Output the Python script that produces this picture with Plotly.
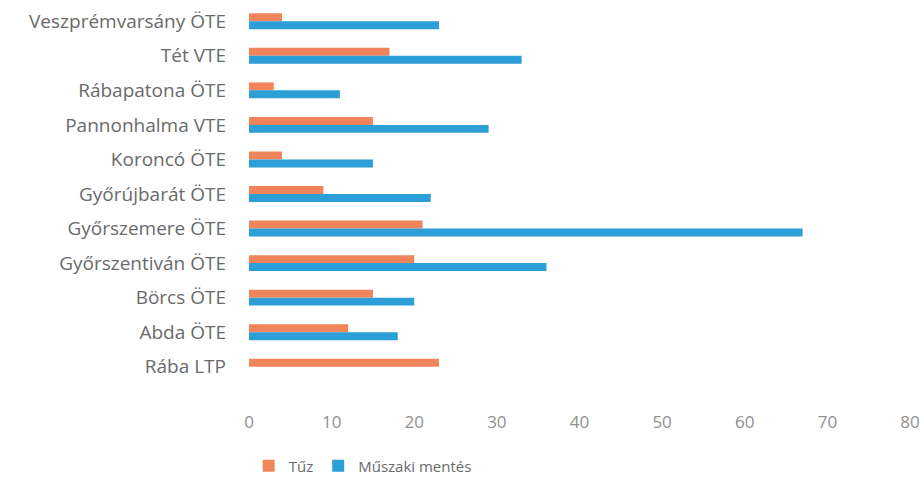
import plotly.graph_objects as go

categories = ["Veszprémvarsány ÖTE", "Tét VTE", "Rábapatona ÖTE", "Pannonhalma VTE",
              "Koroncó ÖTE", "Győrújbarát ÖTE", "Győrszemere ÖTE", "Győrszentiván ÖTE",
              "Börcs ÖTE", "Abda ÖTE", "Rába LTP"]
tuz = [4, 17, 3, 15, 4, 9, 21, 20, 15, 12, 23]
muszaki = [23, 33, 11, 29, 15, 22, 67, 36, 20, 18, 0]
x_ticks = [0, 10, 20, 30, 40, 50, 60, 70, 80]

fig = go.Figure()
fig.add_trace(go.Bar(y=categories, x=tuz, name="Tűz", orientation="h",
                     marker=dict(color="#F0845A", line=dict(width=0))))
fig.add_trace(go.Bar(y=categories, x=muszaki, name="Műszaki mentés", orientation="h",
                     marker=dict(color="#2C9ED8", line=dict(width=0))))

fig.update_layout(
    width=923, height=481,
    margin=dict(l=249, r=13, t=4, b=97, autoexpand=False),
    paper_bgcolor="white", plot_bgcolor="white",
    barmode="group", bargap=0.54, bargroupgap=0,
    font=dict(family="Open Sans", size=19, color="#6a6a6a"),
    showlegend=True,
    legend=dict(orientation="h", x=0.172, xanchor="center", y=-0.216, yanchor="middle",
                font=dict(size=15, color="#6a6a6a"), traceorder="normal",
                itemwidth=30),
    xaxis=dict(range=[0, 80], tickvals=x_ticks, showgrid=False, zeroline=False,
               showline=False, ticks="", ticklabelstandoff=26,
               tickfont=dict(size=17, color="#909090"), automargin=False),
    yaxis=dict(autorange="reversed", showgrid=False, showline=False, ticks="",
               ticklabelstandoff=22, tickfont=dict(size=19, color="#6a6a6a"),
               automargin=False),
)

fig.write_html("out.html", post_script="document.body.style.margin='0';",
               config={"displayModeBar": False})
